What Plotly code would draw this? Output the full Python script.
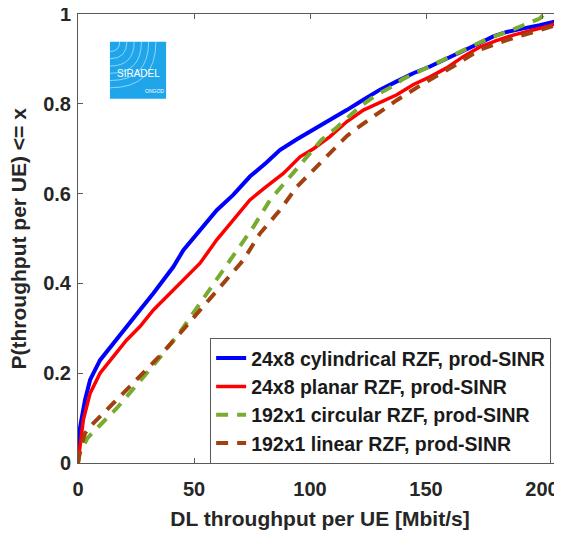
import plotly.graph_objects as go

# CDF curves (x in Mbit/s, y = probability)
cyl_x = [0, 0.9, 3, 5.2, 9.5, 15.2, 21, 26.7, 32.5, 36.8, 41.1, 45.4, 52.6, 59.8, 66.9, 74.1, 81, 87,
         94, 101.4, 108.6, 115.8, 123, 130, 137.4, 144.5, 151.7, 158.9, 166, 173, 179, 184.8, 192, 199, 208.5]
cyl_y = [0, 0.08, 0.14, 0.185, 0.229, 0.267, 0.304, 0.341, 0.378, 0.408, 0.437, 0.474, 0.519, 0.563,
         0.597, 0.638, 0.668, 0.697, 0.72, 0.742, 0.764, 0.786, 0.809, 0.831, 0.85, 0.868, 0.883, 0.9,
         0.918, 0.935, 0.95, 0.96, 0.968, 0.975, 0.987]

plan_x = [0, 0.9, 2.3, 5.2, 9.5, 15.2, 21, 26.7, 32.5, 39.7, 46.8, 52.6, 59.8, 67, 74.1, 81, 88.5, 95.7,
          101.5, 108.6, 115.8, 123, 130, 137.4, 144.6, 151.7, 158.9, 166, 173, 180, 187.6, 195, 202, 208.5]
plan_y = [0, 0.036, 0.096, 0.155, 0.2, 0.237, 0.274, 0.304, 0.341, 0.378, 0.415, 0.445, 0.497, 0.541,
          0.586, 0.615, 0.645, 0.682, 0.7, 0.727, 0.76, 0.786, 0.803, 0.82, 0.843, 0.86, 0.88, 0.905,
          0.926, 0.94, 0.953, 0.963, 0.972, 0.983]

circ_x = [0, 0.6, 1.6, 4, 7.3, 16.7, 26, 35.3, 44, 51.1, 56, 61.2, 68.4, 75.6, 82.8, 92.8, 100, 105,
          111.5, 121.6, 128, 134.5, 140, 146, 157.5, 164, 170.4, 177, 184.8, 192, 199, 201]
circ_y = [0, 0.02, 0.03, 0.055, 0.073, 0.122, 0.178, 0.235, 0.292, 0.345, 0.38, 0.418, 0.474, 0.526,
          0.586, 0.645, 0.69, 0.72, 0.747, 0.794, 0.818, 0.836, 0.855, 0.87, 0.898, 0.915, 0.931, 0.946,
          0.96, 0.975, 0.99, 1.0]

lin_x = [0, 1, 3, 5.2, 15.2, 24.6, 34.6, 44, 54, 62.6, 71.3, 78.4, 87, 94.3, 98.6, 107.2, 115.8, 120,
         127.4, 137.4, 148.8, 161.6, 173, 184.8, 199, 208.5]
lin_y = [0, 0.03, 0.066, 0.081, 0.133, 0.183, 0.235, 0.289, 0.348, 0.4, 0.452, 0.511, 0.563, 0.615,
         0.638, 0.682, 0.728, 0.745, 0.771, 0.808, 0.845, 0.883, 0.92, 0.942, 0.964, 0.979]

names = ["24x8 cylindrical RZF, prod-SINR", "24x8 planar RZF, prod-SINR",
         "192x1 circular RZF, prod-SINR", "192x1 linear RZF, prod-SINR"]

x_ticks = [0, 50, 100, 150, 200]
y_ticks = [0, 0.2, 0.4, 0.6, 0.8, 1]
y_labels = ["0", "0.2", "0.4", "0.6", "0.8", "1"]

FONT = "Liberation Sans, Arial, sans-serif"
AXIS_COLOR = "#5a5a5a"

fig = go.Figure()
fig.add_trace(go.Scatter(x=cyl_x, y=cyl_y, mode="lines", name=names[0],
                         line=dict(color="#0000ff", width=4)))
fig.add_trace(go.Scatter(x=plan_x, y=plan_y, mode="lines", name=names[1],
                         line=dict(color="#ff0000", width=3.5)))
fig.add_trace(go.Scatter(x=circ_x, y=circ_y, mode="lines", name=names[2],
                         line=dict(color="#77ac30", width=4, dash="12px,9px")))
fig.add_trace(go.Scatter(x=lin_x, y=lin_y, mode="lines", name=names[3],
                         line=dict(color="#a2400f", width=4, dash="12px,9px")))

# SIRADEL logo box (top left corner of the axes), paper coordinates
lx0, lx1, ly0, ly1 = 0.066, 0.182, 0.811, 0.938
fig.add_shape(type="rect", xref="paper", yref="paper", x0=lx0, x1=lx1, y0=ly0, y1=ly1,
              fillcolor="#1fa6ea", line=dict(width=0), layer="above")
# faint rings from the top-left corner, kept inside the box
for r in [0.02, 0.035, 0.05, 0.065, 0.08, 0.095]:
    ry = r * 484 / 449
    path = f"M {lx0 + r},{ly1} Q {lx0 + r},{ly1 - ry} {lx0},{ly1 - ry}"
    fig.add_shape(type="path", xref="paper", yref="paper", path=path,
                  line=dict(color="rgba(255,255,255,0.5)", width=1), layer="above")
fig.add_annotation(xref="paper", yref="paper", x=(lx0 + lx1) / 2, y=0.868, text="SIRADEL",
                   xanchor="center", yanchor="middle", showarrow=False,
                   font=dict(family=FONT, size=10, color="white", weight="normal"))
fig.add_annotation(xref="paper", yref="paper", x=0.158, y=0.828, text="ONGOD",
                   xanchor="center", yanchor="middle", showarrow=False,
                   font=dict(family=FONT, size=5, color="white", weight="normal"))

# y title placed as rotated text, closer to the edge than the axis title allows
fig.add_annotation(xref="paper", yref="paper", x=-0.122, y=0.5, text="P(throughput per UE) <= x",
                   textangle=-90, xanchor="center", yanchor="middle", showarrow=False,
                   font=dict(family=FONT, size=21, color="#262626", weight="bold"))

# the page body adds an 8px margin, so the figure is 8px smaller and margins are shifted
fig.update_layout(
    width=554, height=528,
    margin=dict(l=70, r=0, t=6, b=73),
    paper_bgcolor="white", plot_bgcolor="white",
    font=dict(family=FONT, color="#262626", size=20, weight="bold"),
    showlegend=True,
    legend=dict(x=0.273, y=-0.002, xanchor="left", yanchor="bottom",
                bgcolor="white", bordercolor=AXIS_COLOR, borderwidth=1,
                font=dict(family=FONT, size=19.5, color="#1a1a1a", weight="bold"),
                itemwidth=30, tracegroupgap=0),
    xaxis=dict(range=[0, 208.6], tickvals=x_ticks, ticks="inside", ticklen=5, tickcolor=AXIS_COLOR,
               showline=True, linecolor=AXIS_COLOR, linewidth=1, mirror="ticks", showgrid=False,
               zeroline=False, automargin=False, ticklabelstandoff=8, ticklabeloverflow="allow",
               tickfont=dict(size=20, weight="bold"),
               title=dict(text="DL throughput per UE [Mbit/s]", font=dict(size=21, weight="bold"),
                          standoff=12)),
    yaxis=dict(range=[0, 1], tickvals=y_ticks, ticktext=y_labels, ticks="inside", ticklen=5,
               tickcolor=AXIS_COLOR, showline=True, linecolor=AXIS_COLOR, linewidth=1, mirror="ticks",
               showgrid=False, zeroline=False, automargin=False, ticklabelstandoff=2,
               ticklabeloverflow="allow", tickfont=dict(size=20, weight="bold")),
)

fig.write_html("out.html")
